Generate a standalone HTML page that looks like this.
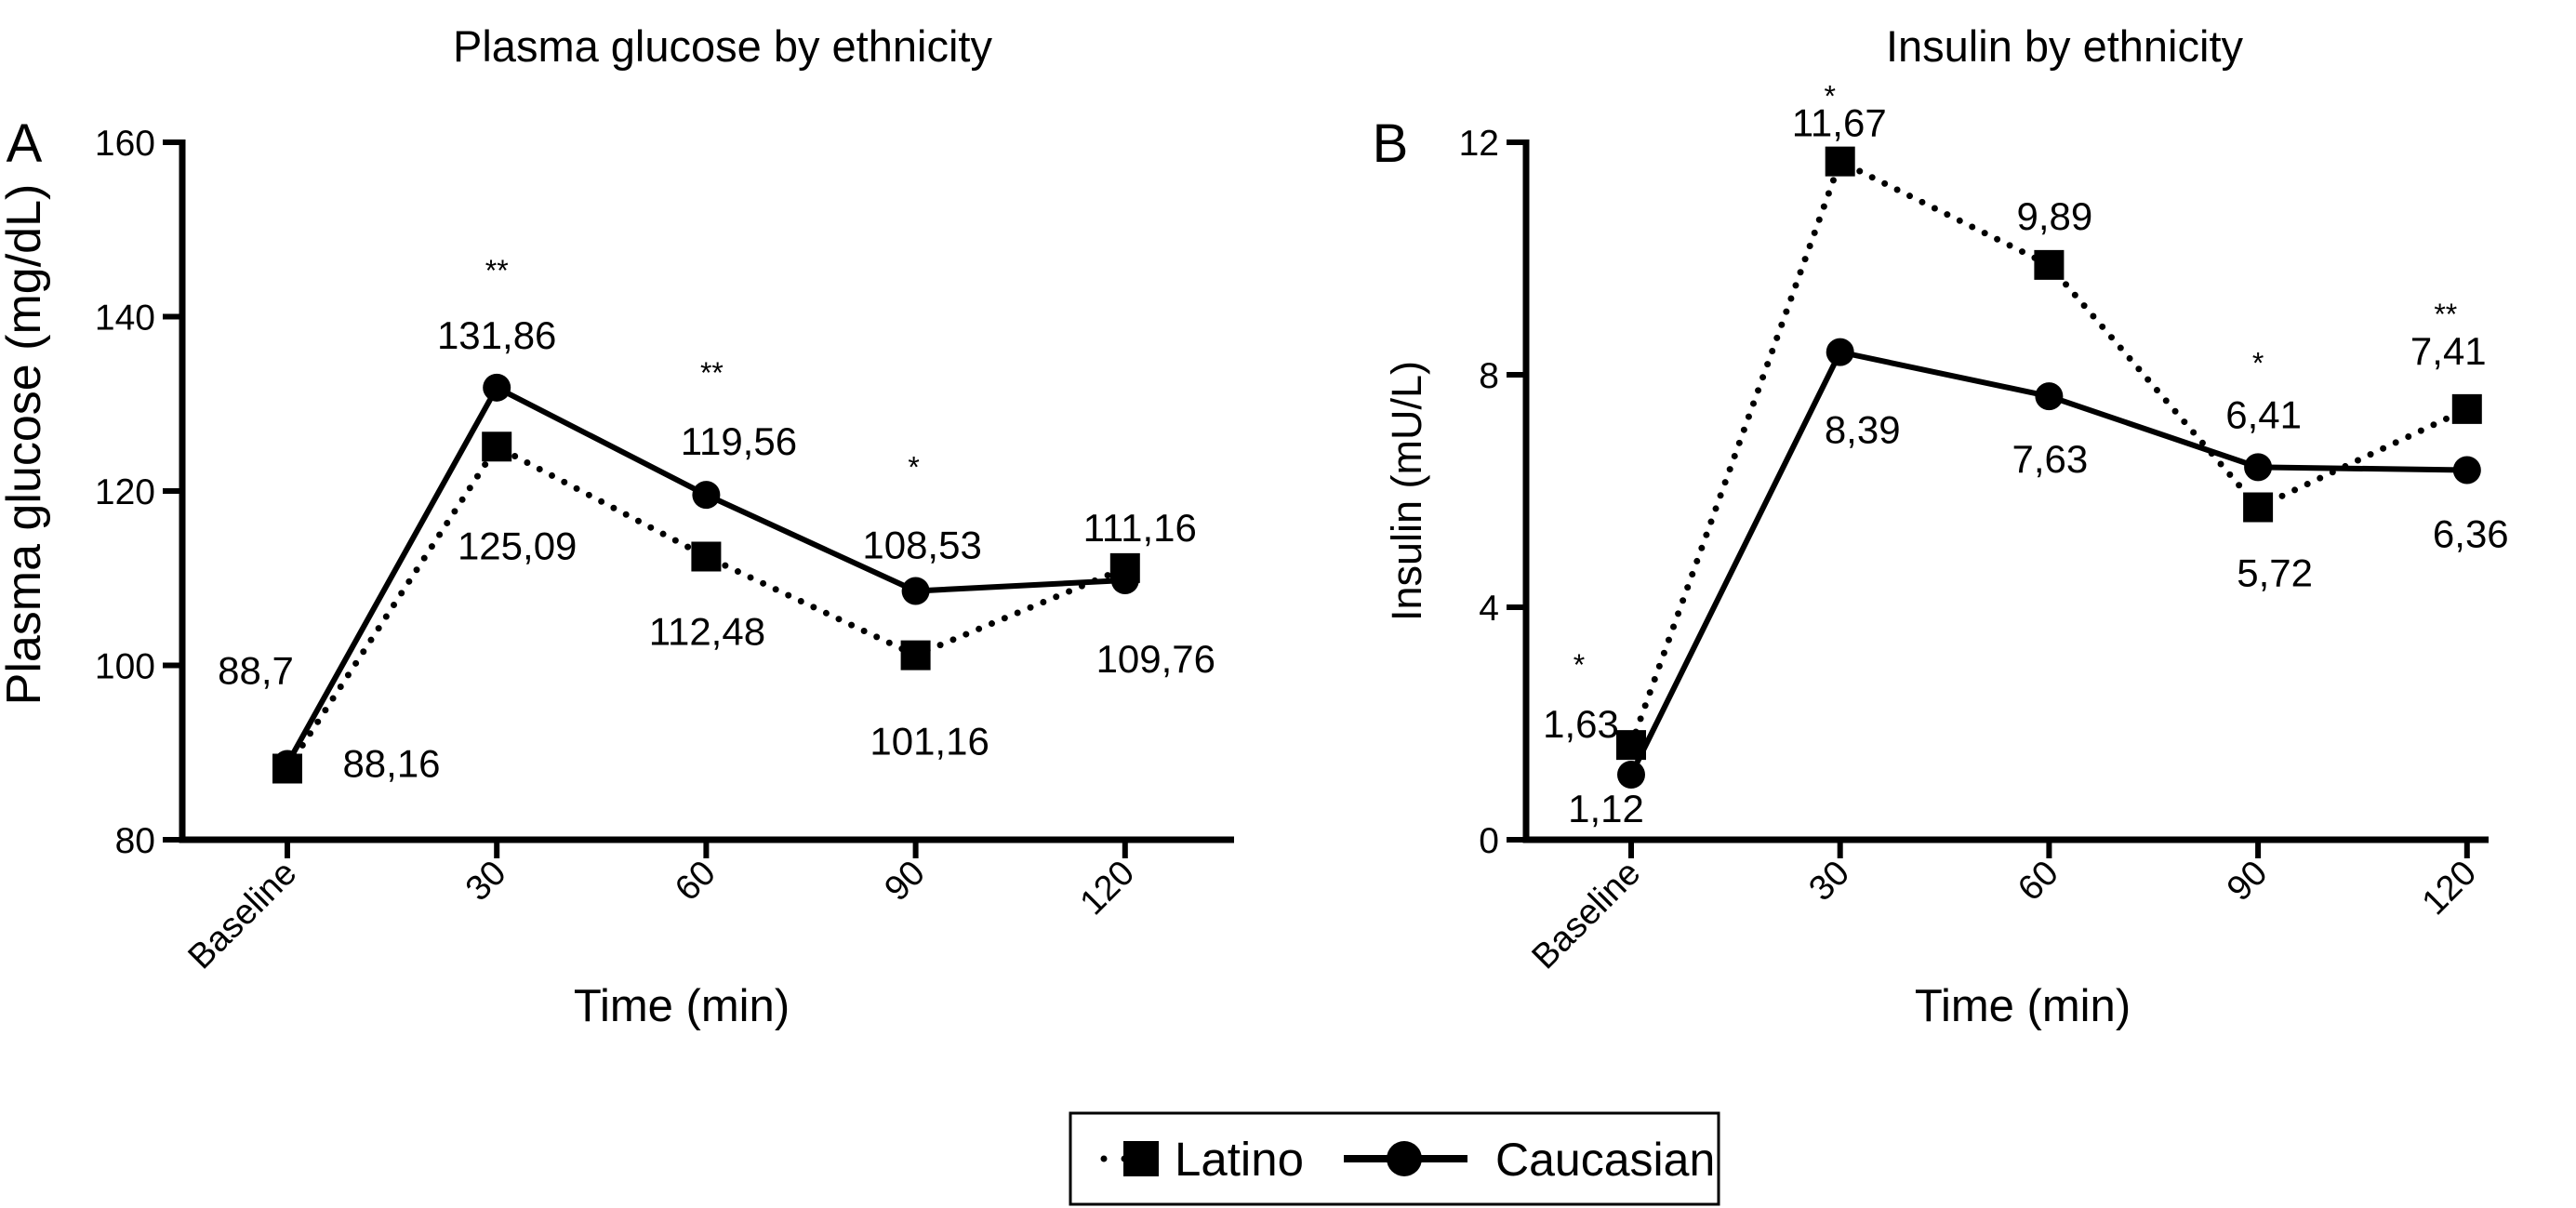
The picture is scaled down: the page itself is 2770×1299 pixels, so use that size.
<!DOCTYPE html>
<html><head><meta charset="utf-8"><style>
html,body{margin:0;padding:0;background:#fff;}
svg{display:block;font-family:"Liberation Sans",Arial,sans-serif;}
</style></head><body>
<svg id="chart" width="2770" height="1299" viewBox="0 0 2770 1299" xmlns="http://www.w3.org/2000/svg">
<g id="layer"></g>
</svg>
<script>
// Shared categories
const categories = ["Baseline","30","60","90","120"];
// Panel A: plasma glucose (mg/dL)
const glucoseLatino = [88.16,125.09,112.48,101.16,111.16];
const glucoseCaucasian = [88.7,131.86,119.56,108.53,109.76];
const glucoseTicks = [80,100,120,140,160];
const glucoseStars = ["","**","**","*",""];
// Panel B: insulin (mU/L)
const insulinLatino = [1.63,11.67,9.89,5.72,7.41];
const insulinCaucasian = [1.12,8.39,7.63,6.41,6.36];
const insulinTicks = [0,4,8,12];
const insulinStars = ["*","*","","*","**"];

const NS="http://www.w3.org/2000/svg";
const layer=document.getElementById('layer');
function mk(tag,attrs,parent,text){const e=document.createElementNS(NS,tag);for(const k in attrs)e.setAttribute(k,attrs[k]);if(text!==undefined)e.textContent=text;(parent||layer).appendChild(e);return e;}
function fmt(v){return String(v).replace('.',',');}

const panels=[
 {key:'glucose',letter:'A',title:'Plasma glucose by ethnicity',ytitle:'Plasma glucose (mg/dL)',ytFont:52,ytY:478,
  lat:glucoseLatino,cau:glucoseCaucasian,ticks:glucoseTicks,stars:glucoseStars,
  axX:196,x0:309,dx:225.2,xEnd:1327,yTop:153,yBot:903,titleX:777,letterX:26,ytitleX:26,timeX:733,
  latOff:[[112,-6],[22,106],[1,80],[15,92],[16,-44]],
  cauOff:[[-34,-101],[0,-57],[35,-58],[7,-50],[33,84]],
  starOff:[[0,0],[0,-131],[6,-136],[-2,-138],[0,0]]},
 {key:'insulin',letter:'B',title:'Insulin by ethnicity',ytitle:'Insulin (mU/L)',ytFont:45,ytY:528,
  lat:insulinLatino,cau:insulinCaucasian,ticks:insulinTicks,stars:insulinStars,
  axX:1641,x0:1754,dx:224.7,xEnd:2676,yTop:153,yBot:903,titleX:2220,letterX:1495,ytitleX:1511,timeX:2175,
  latOff:[[-54,-23],[-1,-42],[6,-53],[18,70],[-20,-63]],
  cauOff:[[-27,36],[24,83],[1,67],[6,-57],[4,68]],
  starOff:[[-56,-91],[-11,-75],[0,0],[0,-117],[-23,-107]]}
];

panels.forEach(p=>{
 const g=mk('g',{});
 
 
 const ymin=p.ticks[0], ymax=p.ticks[p.ticks.length-1];
 const y=v=>p.yBot-(v-ymin)/(ymax-ymin)*(p.yBot-p.yTop);
 const x=i=>p.x0+i*p.dx;
 let t=mk('text',{x:p.titleX,y:66,'font-size':47,'text-anchor':'middle'},g,p.title);
 
 
 t=mk('text',{x:p.letterX,y:174,'font-size':58,'text-anchor':'middle'},g,p.letter);
 
 
 let a=mk('path',{d:`M${p.axX} ${p.yTop-3}V${p.yBot}H${p.xEnd}`,fill:'none',stroke:'#000','stroke-width':7},g);
 
 
 p.ticks.forEach(v=>{
  const tk=mk('line',{x1:p.axX-21,x2:p.axX,y1:y(v),y2:y(v),stroke:'#000','stroke-width':6},g);
  
  
  const lb=mk('text',{x:p.axX-29,y:y(v)+14,'font-size':39,'text-anchor':'end'},g,String(v));
  
  
 });
 categories.forEach((c,i)=>{
  const tk=mk('line',{x1:x(i),x2:x(i),y1:p.yBot,y2:p.yBot+20,stroke:'#000','stroke-width':6},g);
  
  
  const lb=mk('text',{x:x(i)+12,y:p.yBot+38,'font-size':38,'text-anchor':'end',transform:`rotate(-45 ${x(i)+12} ${p.yBot+38})`},g,c);
  
  
 });
 t=mk('text',{x:p.timeX,y:1098,'font-size':49,'text-anchor':'middle'},g,'Time (min)');
 
 
 t=mk('text',{x:p.ytitleX+17,y:p.ytY,'font-size':p.ytFont,'text-anchor':'middle',transform:`rotate(-90 ${p.ytitleX+17} ${p.ytY})`},g,p.ytitle);
 
 
 let ln=mk('polyline',{points:p.lat.map((v,i)=>x(i)+','+y(v)).join(' '),fill:'none',stroke:'#000','stroke-width':7,'stroke-linecap':'round','stroke-dasharray':'0 15'},g);
 
 
 ln=mk('polyline',{points:p.cau.map((v,i)=>x(i)+','+y(v)).join(' '),fill:'none',stroke:'#000','stroke-width':6},g);
 
 
 p.cau.forEach((v,i)=>{
  const c=mk('circle',{cx:x(i),cy:y(v),r:15,fill:'#000'},g);
  
  
 });
 p.lat.forEach((v,i)=>{
  const r=mk('rect',{x:x(i)-16,y:y(v)-16,width:32,height:32,fill:'#000'},g);
  
  
 });
 p.lat.forEach((v,i)=>{
  const o=p.latOff[i];
  const lb=mk('text',{x:x(i)+o[0],y:y(v)+o[1]+15,'font-size':42,'text-anchor':'middle'},g,fmt(v));
  
  
 });
 p.cau.forEach((v,i)=>{
  const o=p.cauOff[i];
  const lb=mk('text',{x:x(i)+o[0],y:y(v)+o[1]+15,'font-size':42,'text-anchor':'middle'},g,fmt(v));
  
  
 });
 p.stars.forEach((s,i)=>{
  if(!s)return;
  const top=Math.min(y(p.lat[i]),y(p.cau[i]));
  const o=p.starOff[i];
  const st=mk('text',{x:x(i)+o[0],y:top+o[1]+16,'font-size':32,'text-anchor':'middle'},g,s);
  
  
 });
});

const lg=mk('g',{});


mk('rect',{x:1151,y:1197,width:697,height:98,fill:'#fff',stroke:'#000','stroke-width':3},lg);
let e=mk('line',{x1:1187,x2:1253,y1:1246,y2:1246,stroke:'#000','stroke-width':7,'stroke-linecap':'round','stroke-dasharray':'0 22'},lg);


e=mk('rect',{x:1208,y:1227,width:38,height:38,fill:'#000'},lg);


e=mk('text',{x:1263,y:1264,'font-size':51},lg,'Latino');


mk('line',{x1:1445,x2:1578,y1:1246,y2:1246,stroke:'#000','stroke-width':8},lg);
e=mk('circle',{cx:1510,cy:1246,r:19,fill:'#000'},lg);


e=mk('text',{x:1608,y:1264,'font-size':50},lg,'Caucasian');


</script>
</body></html>
